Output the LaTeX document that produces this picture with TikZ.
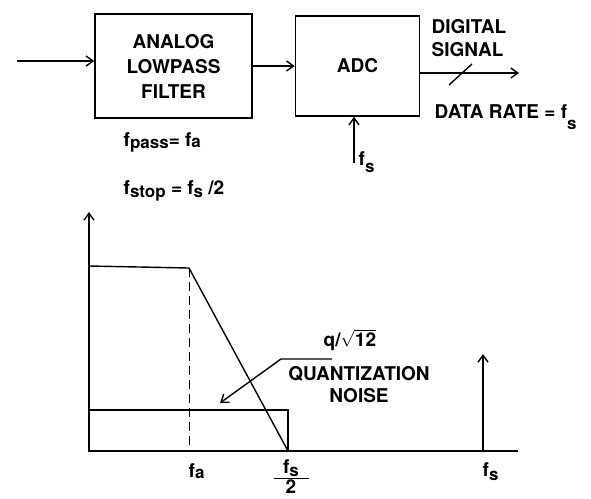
\documentclass[tikz,border=0pt]{standalone}
\usepackage{fontspec}
\setmainfont{TeX Gyre Heros}
\usetikzlibrary{positioning}
\usetikzlibrary{arrows.meta}
\newcommand{\lowsub}[2][3pt]{\raisebox{-#1}{\fontsize{17}{17}\selectfont #2}}

\begin{document}
\begin{tikzpicture}[x=1pt, y=-1pt, line width=1.4pt, >={Straight Barb[length=7pt,width=10pt]},
    block/.style = {draw, minimum width=157pt, minimum height=104pt, align=center},
    lbl/.style = {font=\fontsize{19}{25}\selectfont\bfseries, inner sep=0pt}]
    \useasboundingbox (0,0) rectangle (591,498);
    % blocks
    \node[block, lbl] (filter) at (173.5,66) {ANALOG\\LOWPASS\\FILTER};
    \node[block, lbl, minimum width=124pt, minimum height=100pt, right=42pt of filter] (adc) {ADC};
    \coordinate (in) at (17,61);
    \coordinate (out) at (519,73);
    \coordinate (slash) at (460,74);
    \coordinate (clk) at (354,163);
    \draw[->] (in) -- (in -| filter.west);
    \draw[->] (filter.east) -- (adc.west);
    \draw[->] (out -| adc.east) -- (out);
    \draw (slash) +(-11,11) -- +(12,-10);
    \draw[->] (clk) -- (clk |- adc.south);
    \node[lbl, anchor=north west, align=left, font=\fontsize{19}{23}\selectfont\bfseries] (dig) at (431,19) {DIGITAL\\SIGNAL};
    \node[lbl, anchor=base west] (rate) at (434,118) {DATA RATE = f\lowsub[11pt]{s}};
    \node[lbl, anchor=base west] (clkl) at (358,165) {f\lowsub[7pt]{s}};
    \node[lbl, anchor=base west] (fpass) at (123,146) {f\lowsub[2pt]{pass}= f\lowsub[1pt]{a}};
    \node[lbl, anchor=base west] (fstop) at (123,194) {f\lowsub[3pt]{stop} = f\lowsub[3pt]{s} /2};
    % spectrum
    \coordinate (o) at (89,451);
    \coordinate (ytop) at (89,212);
    \coordinate (xend) at (518,451);
    \coordinate (pb) at (89,266);
    \coordinate (fa) at (189,268);
    \coordinate (fh) at (288,451);
    \coordinate (nz) at (89,410);
    \coordinate (ld) at (332,359);
    \coordinate (nzarrow) at (220,403);
    \coordinate (fs) at (483,451);
    \draw[->] (o) -- (ytop);
    \draw (o) -- (xend);
    \draw (pb) -- (fa) -- (fh);
    \draw[line width=1pt, dash pattern=on 9pt off 5pt] (fa) -- (fa |- o);
    \draw (nz) rectangle (fh);
    \draw[->] (ld) -- ++(-51,0) -- (nzarrow);
    \draw[->] (fs) -- ++(0,-97);
    \node[lbl, anchor=base west] (qn) at (323,346) {q/$\sqrt{\mbox{12}}$};
    \node[lbl, anchor=north, align=center, font=\fontsize{19}{22}\selectfont\bfseries] (noise) at (359,366) {QUANTIZATION\\NOISE};
    \node[lbl, anchor=base west] (fal) at (188,477) {f\lowsub[1pt]{a}};
    \node[lbl, anchor=north, align=center, font=\fontsize{19}{0}\selectfont\bfseries] (fhl) at (291,459) {f\lowsub[3pt]{s}\\\rule{35pt}{1.4pt}\\2};
    \node[lbl, anchor=base west] (fsl) at (482,476) {f\lowsub[4pt]{s}};
\end{tikzpicture}
\end{document}
